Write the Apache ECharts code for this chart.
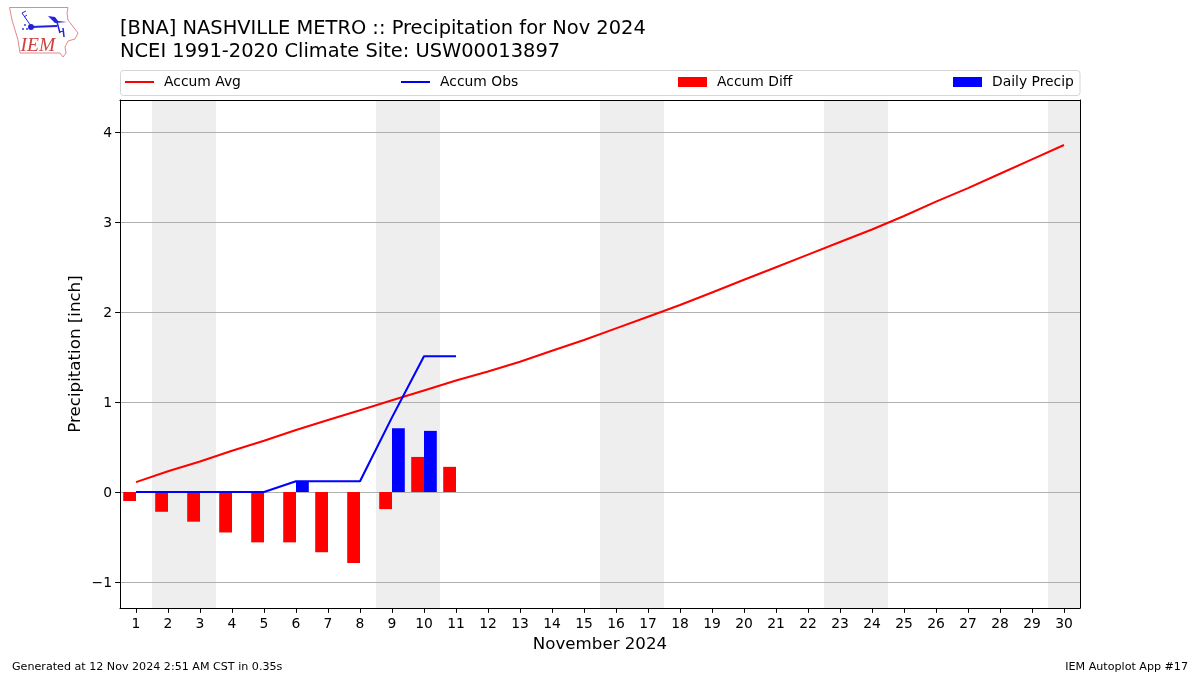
<!DOCTYPE html>
<html><head><meta charset="utf-8">
<script src="https://cdn.jsdelivr.net/npm/echarts@6/dist/echarts.min.js"></script>
<style>html,body{margin:0;padding:0;background:#fff}#c{width:1200px;height:675px}</style>
</head><body><div id="c"></div>
<script>
const days = ['1','2','3','4','5','6','7','8','9','10','11','12','13','14','15','16','17','18','19','20','21','22','23','24','25','26','27','28','29','30'];
const accumAvg = [0.11,0.23,0.34,0.46,0.57,0.69,0.80,0.91,1.02,1.13,1.24,1.34,1.45,1.57,1.69,1.82,1.95,2.08,2.22,2.36,2.50,2.64,2.78,2.92,3.07,3.23,3.38,3.54,3.70,3.86];
const accumObs = [0,0,0,0,0,0.12,0.12,0.12,0.83,1.51,1.51];
const accumDiff = [-0.10,-0.22,-0.33,-0.45,-0.56,-0.56,-0.67,-0.79,-0.19,0.39,0.28];
const dailyPrecip = [0,0,0,0,0,0.12,0,0,0.71,0.68,0];
const weekendSpans = [[1.5,3.5],[8.5,10.5],[15.5,17.5],[22.5,24.5],[29.5,30.5]];
const yTickValues = [-1,0,1,2,3,4];
const yRange = {min:-1.29,max:4.36};
const FONT='"DejaVu Sans"';
const chart=echarts.init(document.getElementById('c'),null,{renderer:'canvas'});
const legendAt=(name,left,h,top)=>({show:true,data:[{name:name,icon:'rect'}],left:left,top:top,orient:'horizontal',padding:0,
  itemWidth:29,itemHeight:h,textStyle:{fontFamily:FONT,fontSize:13.89,color:'#000',padding:[0,0,0,5]},selectedMode:false});
const outline=[[9.5,7.5],[68,7.5],[67,13],[68,20],[78,33],[75,39],[68,41],[65,47],[66,53],[63,57],[60,53],[20,53],[18,40],[12,20]];
const BLUE='#2222dd';
chart.setOption({
  animation:false,
  backgroundColor:'#fff',
  title:[
    {text:'[BNA] NASHVILLE METRO :: Precipitation for Nov 2024\nNCEI 1991-2020 Climate Site: USW00013897',left:120,top:18,padding:0,
     textStyle:{fontFamily:FONT,fontSize:19.44,fontWeight:'normal',color:'#000',lineHeight:22.5}},
    {text:'Generated at 12 Nov 2024 2:51 AM CST in 0.35s',left:12,top:662,padding:0,textStyle:{fontFamily:FONT,fontSize:11.11,fontWeight:'normal',color:'#000'}},
    {text:'IEM Autoplot App #17',right:12,top:662,padding:0,textStyle:{fontFamily:FONT,fontSize:11.11,fontWeight:'normal',color:'#000'}}
  ],
  legend:[legendAt('Accum Avg',125,2,75),legendAt('Accum Obs',401,2,75),legendAt('Accum Diff',678,10,75),legendAt('Daily Precip',953,10,75)],
  grid:{left:120,right:120,top:100,bottom:67,containLabel:false},
  xAxis:[
    {type:'category',data:days,position:'bottom',z:1,name:'November 2024',nameLocation:'middle',nameGap:28,
     nameTextStyle:{fontFamily:FONT,fontSize:16.67,color:'#000'},
     axisLine:{show:true,onZero:false,lineStyle:{color:'#000',width:1}},
     axisTick:{show:true,alignWithLabel:true,length:4.9,lineStyle:{color:'#000'}},
     axisLabel:{interval:0,fontFamily:FONT,fontSize:13.89,color:'#000',margin:9},splitLine:{show:false}},
    {type:'value',min:0.5,max:30.5,position:'top',z:1,axisLine:{show:true,onZero:false,lineStyle:{color:'#000',width:1}},
     axisTick:{show:false},axisLabel:{show:false},splitLine:{show:false}}
  ],
  yAxis:[
    {type:'value',min:yRange.min,max:yRange.max,position:'left',z:1,name:'Precipitation [inch]',nameLocation:'middle',nameGap:36,nameMoveOverlap:false,
     nameTextStyle:{fontFamily:FONT,fontSize:16.67,color:'#000'},
     axisLine:{show:true,onZero:false,lineStyle:{color:'#000',width:1}},
     axisTick:{show:true,length:4.9,lineStyle:{color:'#000'},customValues:yTickValues},
     axisLabel:{fontFamily:FONT,fontSize:13.89,color:'#000',margin:8,customValues:yTickValues,
       rich:{t:{fontFamily:FONT,fontSize:13.89,color:'#000',padding:[3,0,0,0]}},
       formatter:v=>'{t|'+String(v).replace('-','\u2212')+'}'},
     splitLine:{show:true,lineStyle:{color:'#b0b0b0',width:1}}},
    {type:'value',min:yRange.min,max:yRange.max,position:'right',z:1,
     axisLine:{show:true,onZero:false,lineStyle:{color:'#000',width:1}},axisTick:{show:false},axisLabel:{show:false},splitLine:{show:false}}
  ],
  series:[
    {type:'custom',name:'weekend',xAxisIndex:1,yAxisIndex:0,z:0,silent:true,data:weekendSpans,
     encode:{x:[0,1]},clip:true,
     renderItem:(p,api)=>{const a=api.coord([api.value(0),yRange.max]),b=api.coord([api.value(1),yRange.min]);
       return {type:'rect',shape:{x:a[0],y:a[1],width:b[0]-a[0],height:b[1]-a[1]},style:{fill:'#eeeeee'}};}},
    {type:'bar',name:'Accum Diff',data:accumDiff,barWidth:12.8,barGap:0,itemStyle:{color:'#ff0000'},z:2},
    {type:'bar',name:'Daily Precip',data:dailyPrecip,barWidth:12.8,barGap:0,itemStyle:{color:'#0000ff'},z:2},
    {type:'line',name:'Accum Avg',data:accumAvg,symbol:'none',lineStyle:{color:'#ff0000',width:2.08},itemStyle:{color:'#ff0000'},z:3},
    {type:'line',name:'Accum Obs',data:accumObs,symbol:'none',lineStyle:{color:'#0000ff',width:2.08},itemStyle:{color:'#0000ff'},z:3}
  ],
  graphic:[
    {type:'rect',shape:{x:120.5,y:70.5,width:959.5,height:25,r:3},style:{fill:'#fff',stroke:'#d6d6d6',lineWidth:1},z:-1,silent:true},
    {type:'polygon',shape:{points:outline},style:{fill:'none',stroke:'#e08a90',lineWidth:1},silent:true},
    {type:'polyline',shape:{points:[[31,27],[57,26]]},style:{stroke:BLUE,lineWidth:2,fill:'none'},silent:true},
    {type:'polyline',shape:{points:[[31,26],[22,13],[26,11]]},style:{stroke:BLUE,lineWidth:1,fill:'none'},silent:true},
    {type:'polyline',shape:{points:[[24,17],[27,15]]},style:{stroke:BLUE,lineWidth:1,fill:'none'},silent:true},
    {type:'circle',shape:{cx:31,cy:27,r:3},style:{fill:BLUE},silent:true},
    {type:'polygon',shape:{points:[[48,16],[55,17],[58,21],[67,22],[55,23]]},style:{fill:BLUE},silent:true},
    {type:'polyline',shape:{points:[[57,22],[60,33]]},style:{stroke:BLUE,lineWidth:1.5,fill:'none'},silent:true},
    {type:'polyline',shape:{points:[[63,28],[64,37]]},style:{stroke:BLUE,lineWidth:1.5,fill:'none'},silent:true},
    {type:'polyline',shape:{points:[[59,32],[64,31]]},style:{stroke:BLUE,lineWidth:1,fill:'none'},silent:true},
    {type:'circle',shape:{cx:25,cy:25,r:0.9},style:{fill:BLUE},silent:true},
    {type:'circle',shape:{cx:23,cy:29,r:0.9},style:{fill:BLUE},silent:true},
    {type:'circle',shape:{cx:27,cy:29,r:0.9},style:{fill:BLUE},silent:true},
    {type:'text',left:20.5,top:36,style:{text:'IEM',fill:'#d04040',font:'italic 19.5px "Liberation Serif"'},silent:true}
  ]
});
</script></body></html>
